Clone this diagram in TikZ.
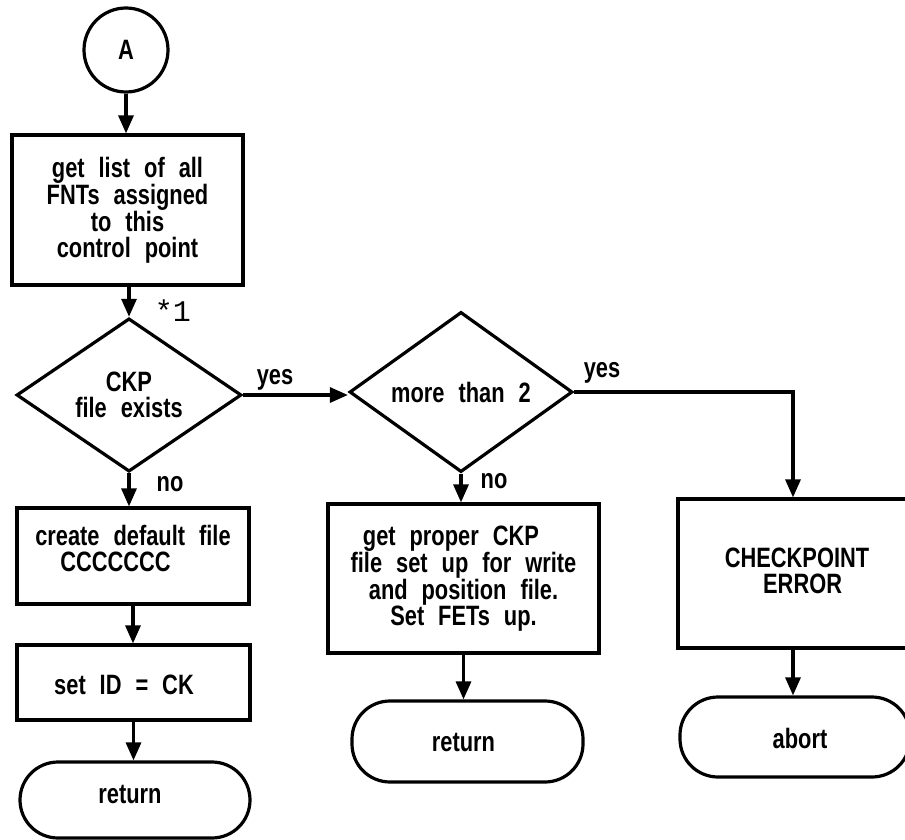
\documentclass[tikz,border=0pt]{standalone}
\usepackage{fontspec}
\newfontfamily\chartfont{Liberation Sans}[FakeStretch=0.78,WordSpace=2.3]
\newfontfamily\markfont{Liberation Mono}
\usetikzlibrary{arrows.meta,shapes.geometric}

\begin{document}
\begin{tikzpicture}[x=1pt,y=-1pt,
  every node/.style={font=\chartfont\bfseries\fontsize{28}{26}\selectfont, inner sep=0pt},
  lw/.style={line width=3.2pt},
  arr/.style={lw, -{Triangle[length=18pt,width=15pt]}},
  proc/.style={draw, lw, rectangle, align=center},
  decis/.style={draw, lw, diamond, align=center},
  term/.style={draw, lw, rectangle, rounded corners=38pt, align=center},
  conn/.style={draw, lw, circle, minimum size=84pt},
  txt/.style={align=center},
]
% page area
\fill[white] (0,0) rectangle (905,840);
\useasboundingbox (0,0) rectangle (905,840);

% connector and main entry
\node[conn] (A) at (126,50) {A};
\node[proc, minimum width=231pt, minimum height=150pt] (list) at (127.5,210)
  {get list of all\\FNTs assigned\\to this\\control point};

% first decision
\node[decis, minimum width=225pt, minimum height=145pt] (ckp) at (129,395)
  {CKP\\file exists};
\node[font=\markfont\fontsize{30}{30}\selectfont] (star) at (173,311) {*1};

% second decision
\node[decis, minimum width=223pt, minimum height=144pt] (many) at (461,392)
  {more than 2};

% left branch: no checkpoint file
\node[proc, minimum width=232pt, minimum height=96pt] (dflt) at (133,556) {};
\node[txt] (dflttxt) at (133,548) {create default file\\CCCCCCC\hspace*{1.25em}};
\node[proc, minimum width=233pt, minimum height=75pt] (setid) at (133.5,682.5) {};
\node[txt] (setidtxt) at (124,685) {set ID = CK};
\node[term, minimum width=230pt, minimum height=76pt] (ret1) at (135,800) {};
\node[txt] (ret1txt) at (130,794) {return};

% middle branch: proper checkpoint file
\node[proc, minimum width=271pt, minimum height=149pt] (proper) at (463.5,578.5)
  {get proper CKP\hspace*{0.9em}\\file set up for write\\and position file.\\Set FETs up.};
\node[term, minimum width=231pt, minimum height=81pt] (ret2) at (467.5,741.5) {};
\node[txt] (ret2txt) at (463.5,742) {return};

% right branch: too many files
\node[proc, minimum width=230pt, minimum height=149pt] (chk) at (793,573.5) {};
\node[txt] (chktxt) at (797,571)
  {CHECKPOINT\\\hspace*{0.4em}ERROR};
\node[term, minimum width=230pt, minimum height=80pt] (abort) at (795,737) {};
\node[txt] (aborttxt) at (800,738) {abort};

% branch labels
\node (yes1) at (275,380) {yes};
\node (no1) at (170,484) {no};
\node (yes2) at (602,373) {yes};
\node (no2) at (494,481) {no};

% connectors
\draw[arr] (A.south) -- (A.south |- list.north);
\draw[arr] (ckp.north |- list.south) -- (ckp.north);
\draw[arr] (ckp.south) -- (ckp.south |- dflt.north);
\draw[arr] (dflt.south) -- (dflt.south |- setid.north);
\draw[arr] (setid.south) -- (setid.south |- ret1.north);
\draw[arr] (ckp.east) -- (ckp.east -| many.west);
\draw[arr] (many.south) -- (many.south |- proper.north);
\draw[arr] (proper.south) -- (proper.south |- ret2.north);
\draw[arr] (many.east) -- (many.east -| chk.north) -- (chk.north);
\draw[arr] (chk.south) -- (chk.south |- abort.north);
\end{tikzpicture}
\end{document}
